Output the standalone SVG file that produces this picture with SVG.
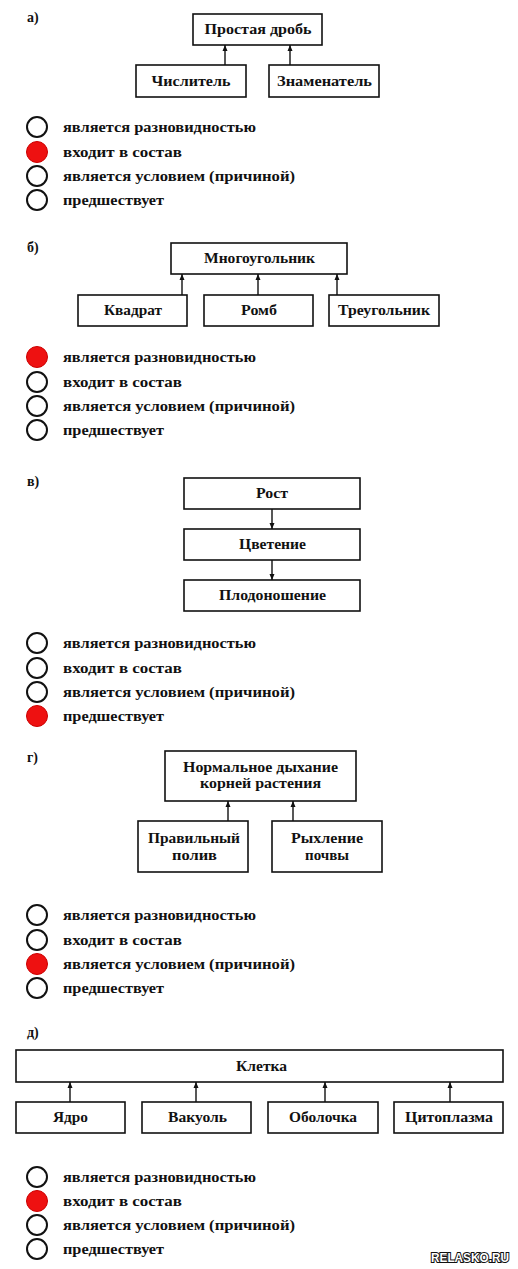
<svg xmlns="http://www.w3.org/2000/svg" width="518" height="1269" viewBox="0 0 518 1269">
<style>
.box{fill:#fff;stroke:#111;stroke-width:1.6}
.bt{font-family:"Liberation Serif",serif;font-weight:bold;font-size:14px;fill:#111;text-anchor:middle}
.ot{font-family:"Liberation Serif",serif;font-weight:bold;font-size:14px;fill:#111}
.lbl{font-family:"Liberation Serif",serif;font-weight:bold;font-size:14px;fill:#111}
.rad{fill:#fff;stroke:#111;stroke-width:2}
.on{fill:#ee1111;stroke:#cc0000;stroke-width:1}
.con{stroke:#111;stroke-width:1.4;fill:none;marker-end:url(#ah)}
.wm{font-family:"Liberation Sans",sans-serif;font-weight:bold;font-size:12px;fill:#fff;stroke:#111;stroke-width:2;paint-order:stroke}
</style>
<defs>
<marker id="ah" viewBox="0 0 6 8" refX="6" refY="4" markerWidth="6" markerHeight="8" markerUnits="userSpaceOnUse" orient="auto">
<path d="M0,1.5 L6,4 L0,6.5 Z" fill="#111"/>
</marker>
</defs>
<rect width="518" height="1269" fill="#fff"/>

<!-- Section a -->
<text class="lbl" x="27" y="22">а)</text>
<g id="a-root"><rect class="box" x="193" y="14" width="129" height="31"/><text class="bt" x="258" y="34" textLength="107" lengthAdjust="spacingAndGlyphs">Простая дробь</text></g>
<g id="a-num"><rect class="box" x="136" y="65" width="110" height="32"/><text class="bt" x="191" y="86" textLength="79" lengthAdjust="spacingAndGlyphs">Числитель</text></g>
<g id="a-den"><rect class="box" x="269" y="65" width="110" height="32"/><text class="bt" x="324.5" y="86" textLength="95" lengthAdjust="spacingAndGlyphs">Знаменатель</text></g>
<g id="a-opts">
<circle class="rad" cx="37" cy="127" r="10"/><text class="ot" x="63" y="132" textLength="193" lengthAdjust="spacingAndGlyphs">является разновидностью</text>
<circle class="on" cx="37" cy="152" r="10.5"/><text class="ot" x="63" y="157" textLength="119" lengthAdjust="spacingAndGlyphs">входит в состав</text>
<circle class="rad" cx="37" cy="176" r="10"/><text class="ot" x="63" y="181" textLength="232" lengthAdjust="spacingAndGlyphs">является условием (причиной)</text>
<circle class="rad" cx="37" cy="200" r="10"/><text class="ot" x="63" y="205" textLength="101" lengthAdjust="spacingAndGlyphs">предшествует</text>
</g>

<!-- Section b -->
<text class="lbl" x="27" y="252">б)</text>
<g id="b-root"><rect class="box" x="171" y="243" width="176" height="31"/><text class="bt" x="259.5" y="263" textLength="111" lengthAdjust="spacingAndGlyphs">Многоугольник</text></g>
<g id="b-sq"><rect class="box" x="78" y="295" width="109" height="31"/><text class="bt" x="133" y="315" textLength="58" lengthAdjust="spacingAndGlyphs">Квадрат</text></g>
<g id="b-rh"><rect class="box" x="204" y="295" width="109" height="31"/><text class="bt" x="259" y="315" textLength="36" lengthAdjust="spacingAndGlyphs">Ромб</text></g>
<g id="b-tr"><rect class="box" x="329" y="295" width="110" height="31"/><text class="bt" x="384" y="315" textLength="92" lengthAdjust="spacingAndGlyphs">Треугольник</text></g>
<g id="b-opts">
<circle class="on" cx="37" cy="357" r="10.5"/><text class="ot" x="63" y="362" textLength="193" lengthAdjust="spacingAndGlyphs">является разновидностью</text>
<circle class="rad" cx="37" cy="382" r="10"/><text class="ot" x="63" y="387" textLength="119" lengthAdjust="spacingAndGlyphs">входит в состав</text>
<circle class="rad" cx="37" cy="406" r="10"/><text class="ot" x="63" y="411" textLength="232" lengthAdjust="spacingAndGlyphs">является условием (причиной)</text>
<circle class="rad" cx="37" cy="430" r="10"/><text class="ot" x="63" y="435" textLength="101" lengthAdjust="spacingAndGlyphs">предшествует</text>
</g>

<!-- Section v -->
<text class="lbl" x="27" y="486">в)</text>
<g id="v-1"><rect class="box" x="184" y="478" width="176" height="31"/><text class="bt" x="272" y="498" textLength="32" lengthAdjust="spacingAndGlyphs">Рост</text></g>
<g id="v-2"><rect class="box" x="184" y="529" width="176" height="31"/><text class="bt" x="272.5" y="549" textLength="67" lengthAdjust="spacingAndGlyphs">Цветение</text></g>
<g id="v-3"><rect class="box" x="184" y="580" width="176" height="31"/><text class="bt" x="272.5" y="600" textLength="107" lengthAdjust="spacingAndGlyphs">Плодоношение</text></g>
<g id="v-opts">
<circle class="rad" cx="37" cy="643" r="10"/><text class="ot" x="63" y="648" textLength="193" lengthAdjust="spacingAndGlyphs">является разновидностью</text>
<circle class="rad" cx="37" cy="668" r="10"/><text class="ot" x="63" y="673" textLength="119" lengthAdjust="spacingAndGlyphs">входит в состав</text>
<circle class="rad" cx="37" cy="692" r="10"/><text class="ot" x="63" y="697" textLength="232" lengthAdjust="spacingAndGlyphs">является условием (причиной)</text>
<circle class="on" cx="37" cy="716" r="10.5"/><text class="ot" x="63" y="721" textLength="101" lengthAdjust="spacingAndGlyphs">предшествует</text>
</g>

<!-- Section g -->
<text class="lbl" x="27" y="762">г)</text>
<g id="g-root"><rect class="box" x="165" y="751" width="191" height="50"/><text class="bt" x="260.5" y="772" textLength="155" lengthAdjust="spacingAndGlyphs">Нормальное дыхание</text><text class="bt" x="260.5" y="788" textLength="121" lengthAdjust="spacingAndGlyphs">корней растения</text></g>
<g id="g-w"><rect class="box" x="138" y="821" width="110" height="51"/><text class="bt" x="194" y="843" textLength="92" lengthAdjust="spacingAndGlyphs">Правильный</text><text class="bt" x="194.5" y="860" textLength="45" lengthAdjust="spacingAndGlyphs">полив</text></g>
<g id="g-s"><rect class="box" x="272" y="821" width="110" height="51"/><text class="bt" x="327" y="843" textLength="72" lengthAdjust="spacingAndGlyphs">Рыхление</text><text class="bt" x="327" y="860" textLength="44" lengthAdjust="spacingAndGlyphs">почвы</text></g>
<g id="g-opts">
<circle class="rad" cx="37" cy="915" r="10"/><text class="ot" x="63" y="920" textLength="193" lengthAdjust="spacingAndGlyphs">является разновидностью</text>
<circle class="rad" cx="37" cy="940" r="10"/><text class="ot" x="63" y="945" textLength="119" lengthAdjust="spacingAndGlyphs">входит в состав</text>
<circle class="on" cx="37" cy="964" r="10.5"/><text class="ot" x="63" y="969" textLength="232" lengthAdjust="spacingAndGlyphs">является условием (причиной)</text>
<circle class="rad" cx="37" cy="988" r="10"/><text class="ot" x="63" y="993" textLength="101" lengthAdjust="spacingAndGlyphs">предшествует</text>
</g>

<!-- Section d -->
<text class="lbl" x="27" y="1037">д)</text>
<g id="d-root"><rect class="box" x="16" y="1050" width="487" height="32"/><text class="bt" x="261.5" y="1071" textLength="51" lengthAdjust="spacingAndGlyphs">Клетка</text></g>
<g id="d-1"><rect class="box" x="16" y="1102" width="109" height="31"/><text class="bt" x="70.5" y="1122" textLength="35" lengthAdjust="spacingAndGlyphs">Ядро</text></g>
<g id="d-2"><rect class="box" x="142" y="1102" width="109" height="31"/><text class="bt" x="197.5" y="1122" textLength="59" lengthAdjust="spacingAndGlyphs">Вакуоль</text></g>
<g id="d-3"><rect class="box" x="268" y="1102" width="110" height="31"/><text class="bt" x="323" y="1122" textLength="68" lengthAdjust="spacingAndGlyphs">Оболочка</text></g>
<g id="d-4"><rect class="box" x="394" y="1102" width="109" height="31"/><text class="bt" x="449" y="1122" textLength="88" lengthAdjust="spacingAndGlyphs">Цитоплазма</text></g>
<g id="d-opts">
<circle class="rad" cx="37" cy="1177" r="10"/><text class="ot" x="63" y="1182" textLength="193" lengthAdjust="spacingAndGlyphs">является разновидностью</text>
<circle class="on" cx="37" cy="1201" r="10.5"/><text class="ot" x="63" y="1206" textLength="119" lengthAdjust="spacingAndGlyphs">входит в состав</text>
<circle class="rad" cx="37" cy="1225" r="10"/><text class="ot" x="63" y="1230" textLength="232" lengthAdjust="spacingAndGlyphs">является условием (причиной)</text>
<circle class="rad" cx="37" cy="1249" r="10"/><text class="ot" x="63" y="1254" textLength="101" lengthAdjust="spacingAndGlyphs">предшествует</text>
</g>

<g id="connectors">
<line class="con" x1="225" y1="65" x2="225" y2="45"/>
<line class="con" x1="290" y1="65" x2="290" y2="45"/>
<line class="con" x1="182" y1="295" x2="182" y2="274"/>
<line class="con" x1="258" y1="295" x2="258" y2="274"/>
<line class="con" x1="337" y1="295" x2="337" y2="274"/>
<line class="con" x1="272" y1="509" x2="272" y2="529"/>
<line class="con" x1="272" y1="560" x2="272" y2="580"/>
<line class="con" x1="228" y1="821" x2="228" y2="801"/>
<line class="con" x1="293" y1="821" x2="293" y2="801"/>
<line class="con" x1="70" y1="1102" x2="70" y2="1082"/>
<line class="con" x1="196" y1="1102" x2="196" y2="1082"/>
<line class="con" x1="325" y1="1102" x2="325" y2="1082"/>
<line class="con" x1="450" y1="1102" x2="450" y2="1082"/>
</g>

<text class="wm" x="431" y="1262" textLength="78" lengthAdjust="spacingAndGlyphs">RELASKO.RU</text>
</svg>
